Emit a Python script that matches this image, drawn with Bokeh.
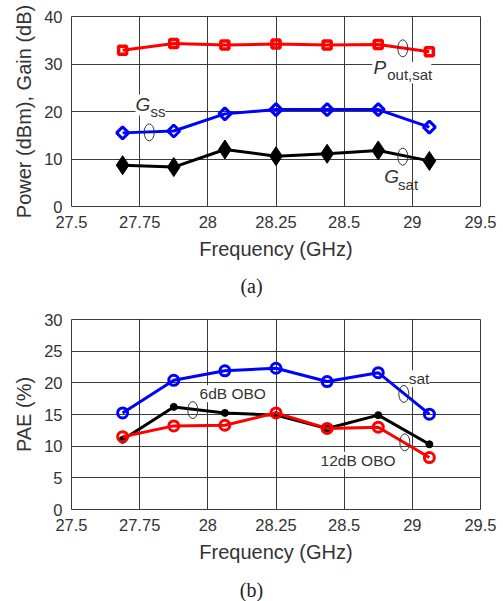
from bokeh.plotting import figure
from bokeh.layouts import column
from bokeh.models import Range1d, FixedTicker, CustomJSTickFormatter, Label, Div
from bokeh.embed import file_html
from bokeh.resources import INLINE

# ---------------- data ----------------
freq = [27.75, 28.0, 28.25, 28.5, 28.75, 29.0, 29.25]
xtick_labels = ["27.5", "27.75", "28", "28.25", "28.5", "29", "29.5"]

pout_sat = [32.9, 34.3, 34.0, 34.2, 34.0, 34.1, 32.6]
g_ss = [15.5, 15.9, 19.5, 20.4, 20.4, 20.4, 16.7]
g_sat = [8.7, 8.3, 12.0, 10.6, 11.1, 11.8, 9.6]

pae_sat = [15.25, 20.4, 21.9, 22.3, 20.2, 21.6, 15.05]
pae_6db = [11.0, 16.2, 15.25, 14.9, 12.8, 14.9, 10.3]
pae_12db = [11.5, 13.2, 13.3, 15.25, 12.8, 13.0, 8.2]

y1_ticks = [0, 10, 20, 30, 40]
y2_ticks = [0, 5, 10, 15, 20, 25, 30]

# annotation ellipses (data coords)
ell1_x = [29.12, 27.88, 29.12]
ell1_y = [33.3, 15.6, 10.5]
ell2_x = [28.093, 29.125, 29.13]
ell2_y = [15.7, 18.25, 10.6]

X0, X1 = 27.5, 29.5
N_INT = len(xtick_labels) - 1
xticks = [X0 + k * (X1 - X0) / N_INT for k in range(N_INT + 1)]

FONT = "Liberation Sans"
TXT = "#333333"
GRID = "#3a3a3a"
W = 503


def make_fig(height, top, bottom, yr, yticks, ylabel):
    p = figure(width=W, height=height, output_backend="svg", toolbar_location=None,
               x_range=Range1d(X0, X1), y_range=Range1d(*yr),
               min_border_left=71, min_border_right=23,
               min_border_top=top, min_border_bottom=bottom)
    p.background_fill_color = "white"
    p.border_fill_color = "white"
    p.outline_line_color = GRID
    p.outline_line_width = 1
    p.xaxis.ticker = FixedTicker(ticks=xticks)
    p.xaxis.formatter = CustomJSTickFormatter(
        args=dict(labels=xtick_labels, x0=X0, x1=X1, n=N_INT),
        code="const i = Math.round((tick - x0) * n / (x1 - x0)); return labels[i];")
    p.yaxis.ticker = FixedTicker(ticks=yticks)
    for ax in (p.xaxis[0], p.yaxis[0]):
        ax.axis_line_color = None
        ax.major_tick_line_color = None
        ax.minor_tick_line_color = None
        ax.major_tick_out = 0
        ax.major_tick_in = 0
        ax.minor_tick_out = 0
        ax.major_label_text_font = FONT
        ax.major_label_text_font_size = "16.5px"
        ax.major_label_text_color = TXT
        ax.axis_label_text_font = FONT
        ax.axis_label_text_font_size = "20px"
        ax.axis_label_text_font_style = "normal"
        ax.axis_label_text_color = TXT
    p.xaxis.axis_label = "Frequency (GHz)"
    p.xaxis.major_label_standoff = 9
    p.xaxis.axis_label_standoff = 7
    p.yaxis.axis_label = ylabel
    p.yaxis.major_label_standoff = 9
    p.yaxis.axis_label_standoff = 6
    p.xgrid.grid_line_color = GRID
    p.ygrid.grid_line_color = GRID
    p.xgrid.grid_line_width = 1
    p.ygrid.grid_line_width = 1
    return p


def caption(text, height, pad_top):
    html = ('<div style="font-family:\'Liberation Serif\',serif;font-size:20px;'
            'line-height:22px;color:#222222;text-align:center;width:%dpx;'
            'padding-top:%dpx;margin:0;">%s</div>' % (W, pad_top, text))
    return Div(text=html, width=W, height=height, margin=0)


def txt(p, x, y, text, size, style="normal", bg=True):
    kw = dict(x=x, y=y, text=text, text_font=FONT, text_font_size=size,
              text_font_style=style, text_color=TXT, text_align="left")
    if bg:
        kw.update(background_fill_color="white")
    p.add_layout(Label(**kw))


# ---------------- (a) ----------------
p1 = make_fig(272, 16, 66, (0, 40), y1_ticks, "Power (dBm), Gain (dB)")

# white gap in the 30-gridline behind the P_out,sat label
p1.rect(x=[29.115], y=[30], width=[59], height=[4], width_units="screen",
        height_units="screen", fill_color="white", line_color=None)

p1.line(freq, pout_sat, line_color="#ff0000", line_width=3)
p1.scatter(freq, pout_sat, marker="square", size=8, line_color="#ff0000",
           line_width=3.5, fill_color=None)
p1.line(freq, g_ss, line_color="#0000ff", line_width=3)
p1.scatter(freq, g_ss, marker="square", angle=0.7854, size=8.5, line_color="#0000ff",
           line_width=3, fill_color=None)
p1.line(freq, g_sat, line_color="#000000", line_width=3)
p1.scatter(freq, g_sat, marker="diamond", size=19, line_color="#000000",
           line_width=1, fill_color="#000000")

p1.ellipse(x=ell1_x, y=ell1_y, width=10, height=17, width_units="screen",
           height_units="screen", fill_color=None, line_color="#333333", line_width=1)

txt(p1, 27.886, 18.2, "ss", "15px")
txt(p1, 27.813, 19.16, "G", "19px", style="italic")
txt(p1, 29.044, 25.96, "out,sat", "15px")
txt(p1, 28.977, 27.1, "P", "19px", style="italic")
txt(p1, 29.097, 2.8, "sat", "15px", bg=False)
txt(p1, 29.029, 4.06, "G", "19px", style="italic", bg=False)

cap_a = caption("(a)", 28, 3)

# ---------------- (b) ----------------
p2 = make_fig(272, 19, 63, (0, 30), y2_ticks, "PAE (%)")

p2.line(freq, pae_sat, line_color="#0000ff", line_width=3)
p2.scatter(freq, pae_sat, marker="circle", size=10, line_color="#0000ff",
           line_width=3, fill_color=None)
p2.line(freq, pae_6db, line_color="#000000", line_width=3)
p2.scatter(freq, pae_6db, marker="circle", size=7, line_color="#000000",
           line_width=1, fill_color="#000000")
p2.line(freq, pae_12db, line_color="#ff0000", line_width=3)
p2.scatter(freq, pae_12db, marker="circle", size=10, line_color="#ff0000",
           line_width=3, fill_color=None)

p2.ellipse(x=ell2_x, y=ell2_y, width=10, height=17, width_units="screen",
           height_units="screen", fill_color=None, line_color="#333333", line_width=1)

txt(p2, 28.126, 16.94, "6dB OBO", "15.5px")
txt(p2, 28.718, 6.43, "12dB OBO", "15.5px")
txt(p2, 29.149, 19.31, "sat", "15.5px")

cap_b = caption("(b)", 29, 7)

layout = column(p1, cap_a, p2, cap_b, spacing=0)
open("out.html", "w").write(file_html(layout, INLINE))
